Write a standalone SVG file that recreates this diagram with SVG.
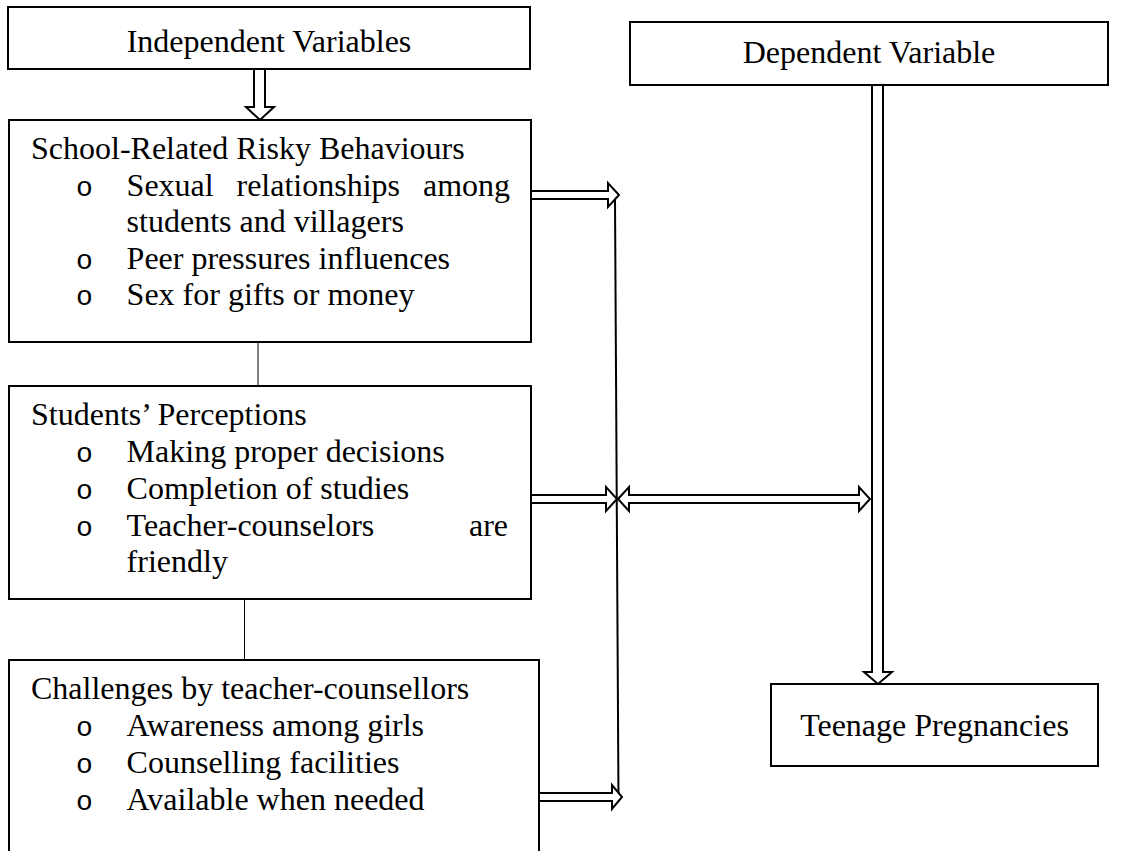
<svg xmlns="http://www.w3.org/2000/svg" width="1134" height="851" viewBox="0 0 1134 851">
<style>
.box{fill:#fff;stroke:#000;stroke-width:2}
.t{font-family:"Liberation Serif","Times New Roman",serif;font-size:32px;fill:#000}
.b{font-family:"Liberation Mono","Courier New",monospace;font-size:28px;fill:#000}
.arr{fill:#fff;stroke:#000;stroke-width:2;stroke-linejoin:miter}
.ln{fill:none;stroke:#000;stroke-width:2}
.thin{fill:none;stroke:#000;stroke-width:1}
</style>
<rect width="1134" height="851" fill="#fff"/>
<g id="connectors">
<line class="thin" x1="258" y1="342" x2="258" y2="386"/>
<line class="thin" x1="244.5" y1="599" x2="244.5" y2="660"/>
<line class="ln" x1="615" y1="199" x2="618.5" y2="801"/>
<polygon class="arr" points="254,69 265,69 265,107 274,107 260,120 246,107 254,107"/>
<polygon class="arr" points="531,191 608,191 608,183 619,195 608,207 608,199 531,199"/>
<polygon class="arr" points="531,495 606,495 606,487 617,499 606,511 606,503 531,503"/>
<polygon class="arr" points="618,499 629,487 629,495 859,495 859,487 870,499 859,511 859,503 629,503 629,511"/>
<polygon class="arr" points="539,793 612,793 612,785 622,797 612,809 612,801 539,801"/>
<polygon class="arr" points="872,85 883,85 883,672 892,672 878,684 864,672 872,672"/>
</g>
<g id="independent">
<rect class="box" x="8" y="7" width="522" height="62"/>
<text class="t" x="269" y="52" text-anchor="middle">Independent Variables</text>
</g>
<g id="dependent">
<rect class="box" x="630" y="22" width="478" height="63"/>
<text class="t" x="869" y="63" text-anchor="middle">Dependent Variable</text>
</g>
<g id="school">
<rect class="box" x="9" y="120" width="522" height="222"/>
<text class="t" x="31" y="159">School-Related Risky Behaviours</text>
<text class="b" x="76" y="196">o</text>
<text class="t" x="126.6" y="196">Sexual</text>
<text class="t" x="236.5" y="196">relationships</text>
<text class="t" x="423" y="196">among</text>
<text class="t" x="126.6" y="232">students and villagers</text>
<text class="b" x="76" y="269">o</text>
<text class="t" x="126.6" y="269">Peer pressures influences</text>
<text class="b" x="76" y="305">o</text>
<text class="t" x="126.6" y="305">Sex for gifts or money</text>
</g>
<g id="students">
<rect class="box" x="9" y="386" width="522" height="213"/>
<text class="t" x="31" y="425">Students’ Perceptions</text>
<text class="b" x="76" y="462">o</text>
<text class="t" x="126.6" y="462">Making proper decisions</text>
<text class="b" x="76" y="499">o</text>
<text class="t" x="126.6" y="499">Completion of studies</text>
<text class="b" x="76" y="536">o</text>
<text class="t" x="126.6" y="536">Teacher-counselors</text>
<text class="t" x="469" y="536">are</text>
<text class="t" x="126.6" y="572">friendly</text>
</g>
<g id="challenges">
<rect class="box" x="9" y="660" width="530" height="220"/>
<text class="t" x="31" y="699">Challenges by teacher-counsellors</text>
<text class="b" x="76" y="736">o</text>
<text class="t" x="126.6" y="736">Awareness among girls</text>
<text class="b" x="76" y="773">o</text>
<text class="t" x="126.6" y="773">Counselling facilities</text>
<text class="b" x="76" y="810">o</text>
<text class="t" x="126.6" y="810">Available when needed</text>
</g>
<g id="teenage">
<rect class="box" x="771" y="684" width="327" height="82"/>
<text class="t" x="934.5" y="736" text-anchor="middle">Teenage Pregnancies</text>
</g>
</svg>
